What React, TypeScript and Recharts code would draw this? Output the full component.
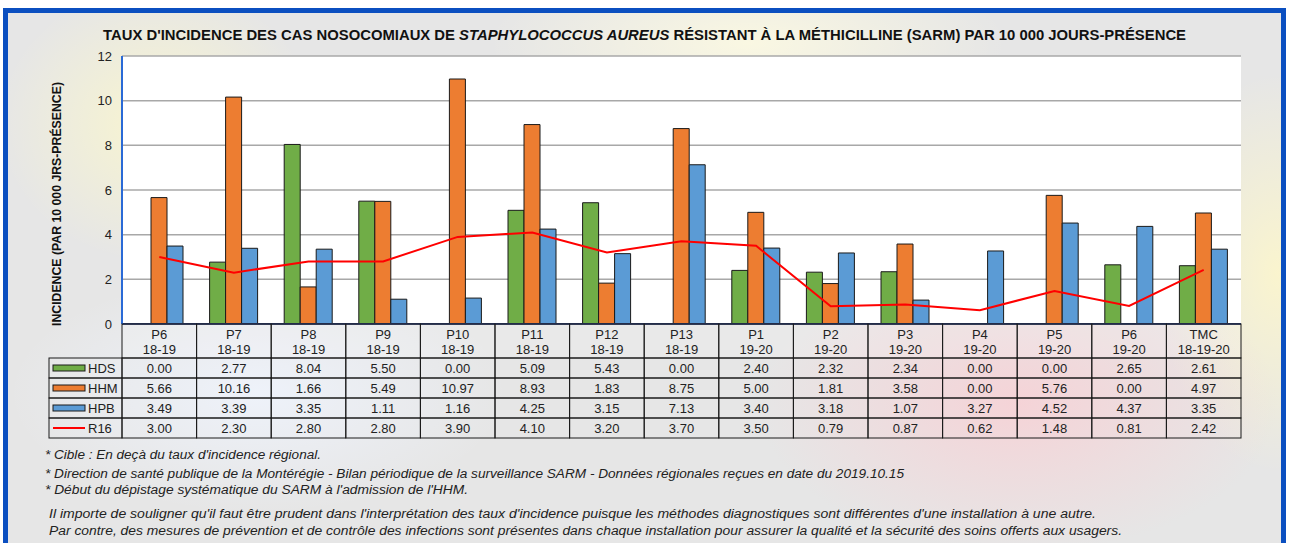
import React from 'react';
import { ComposedChart, Bar, Line, XAxis, YAxis, CartesianGrid } from 'recharts';

const periods = ['P6', 'P7', 'P8', 'P9', 'P10', 'P11', 'P12', 'P13', 'P1', 'P2', 'P3', 'P4', 'P5', 'P6', 'TMC'];
const years = ['18-19', '18-19', '18-19', '18-19', '18-19', '18-19', '18-19', '18-19', '19-20', '19-20', '19-20', '19-20', '19-20', '19-20', '18-19-20'];
const hds = [0.0, 2.77, 8.04, 5.5, 0.0, 5.09, 5.43, 0.0, 2.4, 2.32, 2.34, 0.0, 0.0, 2.65, 2.61];
const hhm = [5.66, 10.16, 1.66, 5.49, 10.97, 8.93, 1.83, 8.75, 5.0, 1.81, 3.58, 0.0, 5.76, 0.0, 4.97];
const hpb = [3.49, 3.39, 3.35, 1.11, 1.16, 4.25, 3.15, 7.13, 3.4, 3.18, 1.07, 3.27, 4.52, 4.37, 3.35];
const r16 = [3.0, 2.3, 2.8, 2.8, 3.9, 4.1, 3.2, 3.7, 3.5, 0.79, 0.87, 0.62, 1.48, 0.81, 2.42];
const yTicks = [0, 2, 4, 6, 8, 10, 12];

const series = [
  { key: 'HDS', values: hds, color: '#70ad47', type: 'bar' },
  { key: 'HHM', values: hhm, color: '#ed7d31', type: 'bar' },
  { key: 'HPB', values: hpb, color: '#5b9bd5', type: 'bar' },
  { key: 'R16', values: r16, color: '#ff0000', type: 'line' },
];

const title = "TAUX D'INCIDENCE DES CAS NOSOCOMIAUX DE ";
const titleItalic = 'STAPHYLOCOCCUS  AUREUS';
const titleEnd = ' RÉSISTANT À LA MÉTHICILLINE (SARM) PAR 10 000 JOURS-PRÉSENCE';
const yLabel = 'INCIDENCE  (PAR 10  000  JRS-PRÉSENCE)';
const notes = [
  "* Cible : En deçà du taux d'incidence régional.",
  '* Direction de santé publique de la Montérégie - Bilan périodique de la surveillance SARM - Données régionales reçues en date du 2019.10.15',
  "*  Début du dépistage systématique du SARM à l'admission de l'HHM.",
  " Il importe de souligner qu'il faut être prudent dans l'interprétation des taux d'incidence puisque les méthodes diagnostiques sont différentes d'une installation à une autre.",
  ' Par contre, des mesures de prévention et de contrôle des infections sont présentes dans chaque installation pour assurer la qualité et la sécurité des soins offerts aux usagers.',
];

const data = periods.map((p, i) => ({
  name: `${p} ${years[i]}`,
  HDS: hds[i],
  HHM: hhm[i],
  HPB: hpb[i],
  R16: r16[i],
}));

const W = 1296;
const H = 543;
const margin = { top: 56, right: 55, bottom: 104, left: 62 };
const Y_AXIS_W = 60;
const colW = (W - margin.left - margin.right - Y_AXIS_W) / periods.length;
const HEAD_H = 34;
const ROW_H = 20;
const LEG_W = 73;
const font = 'Arial, "Liberation Sans", sans-serif';

function TableTick(props: any) {
  const { x, y, payload } = props;
  const i = payload.index;
  const left = x - colW / 2;
  const top = y;
  const cells = series.map((s, r) => {
    const cy = top + HEAD_H + r * ROW_H;
    return (
      <g key={s.key}>
        <rect x={left} y={cy} width={colW} height={ROW_H} fill="none" stroke="#1a1a1a" strokeWidth={1} />
        <text x={x} y={cy + 15} textAnchor="middle" fontSize={13} fill="#222" fontFamily={font}>
          {s.values[i].toFixed(2)}
        </text>
      </g>
    );
  });
  let legend = null;
  if (i === 0) {
    const lx = left - LEG_W;
    legend = series.map((s, r) => {
      const cy = top + HEAD_H + r * ROW_H;
      return (
        <g key={'leg' + s.key}>
          <rect x={lx} y={cy} width={LEG_W} height={ROW_H} fill="none" stroke="#1a1a1a" strokeWidth={1} />
          {s.type === 'bar' ? (
            <rect x={lx + 4} y={cy + 7} width={32} height={6} fill={s.color} stroke="#1a1a1a" strokeWidth={1} />
          ) : (
            <line x1={lx + 4} x2={lx + 36} y1={cy + 10} y2={cy + 10} stroke={s.color} strokeWidth={2} />
          )}
          <text x={lx + 39} y={cy + 15} fontSize={13} fill="#222" fontFamily={font}>
            {s.key}
          </text>
        </g>
      );
    });
  }
  return (
    <g>
      <rect x={left} y={top} width={colW} height={HEAD_H} fill="rgba(255,255,255,0.15)" stroke="#1a1a1a" strokeWidth={1} />
      <text x={x} y={top + 15} textAnchor="middle" fontSize={13} fill="#222" fontFamily={font}>
        {periods[i]}
      </text>
      <text x={x} y={top + 30} textAnchor="middle" fontSize={13} fill="#222" fontFamily={font}>
        {years[i]}
      </text>
      {cells}
      {legend}
    </g>
  );
}

export default function App() {
  const frame = '#0b4fc0';
  const plotBorder = '#2a6ad6';
  return (
    <div style={{ position: 'absolute', left: 0, top: 0, width: W, height: H, overflow: 'hidden', background: '#fff' }}>
      <div
        style={{
          position: 'absolute',
          left: 3,
          top: 8,
          width: 1283,
          height: 560,
          boxSizing: 'border-box',
          border: `5px solid ${frame}`,
          background: [
            'radial-gradient(ellipse 160px 140px at 150px 110px, rgba(255,250,200,0.75), rgba(255,250,200,0) 100%)',
            'radial-gradient(ellipse 260px 90px at 740px 30px, rgba(255,252,225,0.8), rgba(255,252,225,0) 100%)',
            'radial-gradient(ellipse 260px 150px at 1010px 390px, rgba(250,205,210,0.75), rgba(250,205,210,0) 100%)',
            'radial-gradient(ellipse 120px 200px at 1270px 260px, rgba(255,248,200,0.8), rgba(255,248,200,0) 100%)',
            'radial-gradient(ellipse 250px 120px at 250px 380px, rgba(240,245,255,0.8), rgba(240,245,255,0) 100%)',
            '#e6e6e6',
          ].join(', '),
        }}
      />
      <div style={{ position: 'absolute', left: 0, top: 0 }}>
        <ComposedChart width={W} height={H} data={data} margin={margin} barGap={0} barSize={16}>
          <CartesianGrid vertical={false} stroke="#a8a8a8" strokeWidth={1.5} fill="#ffffff" />
          <XAxis
            dataKey="name"
            height={115}
            interval={0}
            tickLine={false}
            tickSize={0}
            tickMargin={0}
            axisLine={{ stroke: '#2b3f78', strokeWidth: 2 }}
            tick={<TableTick />}
          />
          <XAxis
            xAxisId="top"
            dataKey="name"
            orientation="top"
            height={0}
            tick={false}
            tickLine={false}
            axisLine={{ stroke: plotBorder, strokeWidth: 2 }}
          />
          <YAxis
            width={Y_AXIS_W}
            domain={[0, 12]}
            ticks={yTicks}
            interval={0}
            tickLine={false}
            tickSize={0}
            tickMargin={10}
            axisLine={{ stroke: plotBorder, strokeWidth: 2 }}
            tick={{ fontSize: 13, fill: '#222', fontFamily: font }}
          />
          <YAxis
            yAxisId="right"
            orientation="right"
            width={0}
            domain={[0, 12]}
            tick={false}
            tickLine={false}
            axisLine={{ stroke: plotBorder, strokeWidth: 2 }}
          />
          {series
            .filter((s) => s.type === 'bar')
            .map((s) => (
              <Bar key={s.key} dataKey={s.key} fill={s.color} stroke="#1a1a1a" strokeWidth={1} isAnimationActive={false} />
            ))}
          <Line dataKey="R16" type="linear" stroke="#ff0000" strokeWidth={2} dot={false} isAnimationActive={false} />
        </ComposedChart>
      </div>
      <svg width={W} height={H} style={{ position: 'absolute', left: 0, top: 0, pointerEvents: 'none', whiteSpace: 'pre' }}>
        <text x={103} y={40} fontSize={14} fontWeight="bold" fill="#111" fontFamily={font} textLength={1083} lengthAdjust="spacingAndGlyphs">
          {title}
          <tspan fontStyle="italic">{titleItalic}</tspan>
          {titleEnd}
        </text>
        <text
          transform="translate(61, 204) rotate(-90)"
          textAnchor="middle"
          fontSize={12}
          fontWeight="bold"
          fill="#111"
          fontFamily={font}
          textLength={244}
          lengthAdjust="spacingAndGlyphs"
        >
          {yLabel}
        </text>
        {notes.map((n, i) => {
          const ys = [459, 478, 494, 518, 535];
          const xs = [45, 45, 45, 49, 49];
          const ws = [276, 859, 423, 1047, 1073];
          return (
            <text
              key={i}
              x={xs[i]}
              y={ys[i]}
              fontSize={12}
              fontStyle="italic"
              fill="#222"
              fontFamily={font}
              textLength={ws[i]}
              lengthAdjust="spacingAndGlyphs"
            >
              {n}
            </text>
          );
        })}
      </svg>
    </div>
  );
}
